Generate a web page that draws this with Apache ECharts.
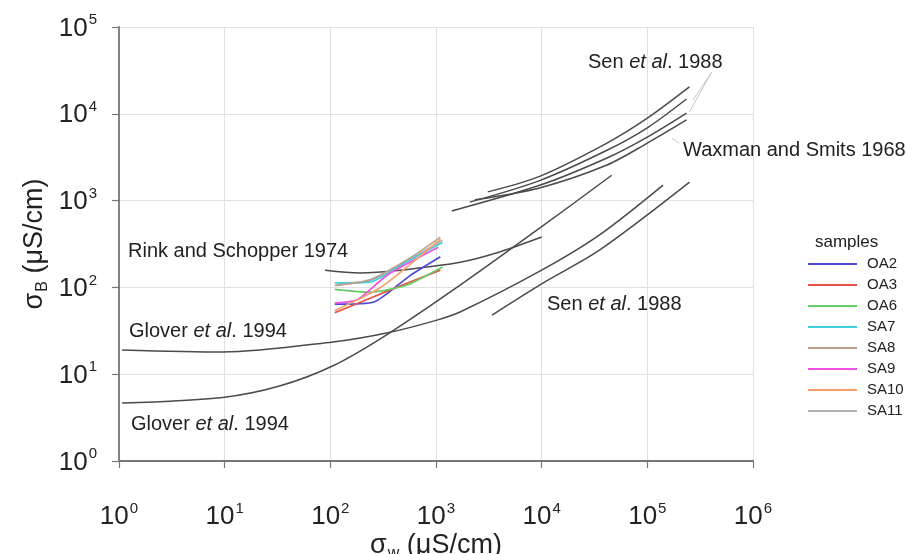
<!DOCTYPE html>
<html>
<head>
<meta charset="utf-8">
<script src="https://cdn.jsdelivr.net/npm/echarts@6/dist/echarts.min.js"></script>
<style>html,body{margin:0;padding:0;background:#fff}#c{width:907px;height:554px}</style>
</head>
<body>
<div id="c"></div>
<script>
// ---- data ----
const sampleNames = ['OA2','OA3','OA6','SA7','SA8','SA9','SA10','SA11'];
const OA2_x = [110, 260, 560, 1100];   const OA2_y = [64, 68, 135, 225];
const OA3_x = [110, 365, 1100];        const OA3_y = [51, 93, 158];
const OA6_x = [110, 236, 525, 1150];   const OA6_y = [95, 88, 106, 172];
const SA7_x = [110, 235, 520, 1150];   const SA7_y = [113, 115, 195, 330];
const SA8_x = [110, 235, 565, 1100];   const SA8_y = [105, 122, 217, 380];
const SA9_x = [110, 180, 350, 1050];   const SA9_y = [66, 72, 140, 290];
const SA10_x = [110, 300, 1100];       const SA10_y = [54, 100, 360];
const SA11_x = [115, 240, 1150];       const SA11_y = [108, 120, 350];

const senA_x = [3090, 9550, 41500, 100000, 250000]; const senA_y = [1260, 1900, 4600, 8900, 20400];
const senB_x = [2090, 9550, 41500, 100000, 235000]; const senB_y = [960, 1700, 3800, 6900, 14800];
const senC_x = [1410, 9550, 41500, 100000, 235000]; const senC_y = [760, 1500, 3100, 5400, 10200];
const wax_x  = [2330, 9550, 41500, 100000, 235000]; const wax_y  = [1020, 1400, 2570, 4600, 8500];
const rink_x = [89, 190, 457, 1690, 4000, 10000];   const rink_y = [158, 147, 158, 195, 256, 380];
const gloverU_x = [1.07, 9.6, 106, 350, 1020, 1690, 10000, 35000, 141000];
const gloverU_y = [19, 18, 23.5, 30, 42, 52, 158, 400, 1510];
const gloverL_x = [1.07, 9.6, 33, 106, 350, 1690, 10000, 46000];
const gloverL_y = [4.65, 5.4, 7.3, 12.5, 29, 106, 500, 1960];
const senLow_x = [3390, 10000, 35500, 251000];       const senLow_y = [48, 110, 270, 1630];
const ptrSen1_x = [407000, 270000]; const ptrSen1_y = [30300, 14400];
const ptrSen2_x = [407000, 250000]; const ptrSen2_y = [30300, 10500];
const ptrWax_x = [200000, 170000];  const ptrWax_y = [4600, 5250];

const xTicks = [1, 10, 100, 1000, 10000, 100000, 1000000];
const yTicks = [1, 10, 100, 1000, 10000, 100000];

// ---- styles ----
const sampleColors = ['#4a4ad8','#e8504a','#66cc66','#40d0e0','#b8a08c','#f050e0','#f5a06a','#b0b0b0'];
const FONT = '"Liberation Sans", Arial, sans-serif';
const LBL = 20;

const zip = (xs, ys) => xs.map((x, i) => [x, ys[i]]);
const sampleData = {
  OA2: zip(OA2_x, OA2_y), OA3: zip(OA3_x, OA3_y), OA6: zip(OA6_x, OA6_y), SA7: zip(SA7_x, SA7_y),
  SA8: zip(SA8_x, SA8_y), SA9: zip(SA9_x, SA9_y), SA10: zip(SA10_x, SA10_y), SA11: zip(SA11_x, SA11_y)
};

const series = [];
const modelCurves = [
  zip(senA_x, senA_y), zip(senB_x, senB_y), zip(senC_x, senC_y), zip(wax_x, wax_y),
  zip(rink_x, rink_y), zip(gloverU_x, gloverU_y), zip(gloverL_x, gloverL_y), zip(senLow_x, senLow_y)
];
modelCurves.forEach(d => series.push({
  type: 'line', data: d, smooth: 0.3, showSymbol: false, silent: true,
  lineStyle: { color: '#4a4a4a', width: 1.5 }, z: 2
}));
[zip(ptrSen1_x, ptrSen1_y), zip(ptrSen2_x, ptrSen2_y), zip(ptrWax_x, ptrWax_y)].forEach(d => series.push({
  type: 'line', data: d, showSymbol: false, silent: true,
  lineStyle: { color: '#c8c8c8', width: 1 }, z: 1
}));
const order = ['SA11','OA2','OA3','OA6','SA7','SA8','SA9','SA10'];
order.forEach(n => {
  const i = sampleNames.indexOf(n);
  series.push({
    name: n, type: 'line', data: sampleData[n], smooth: 0.2, showSymbol: false,
    lineStyle: { color: sampleColors[i], width: 1.7 }, itemStyle: { color: sampleColors[i] }, z: 3
  });
});

const supFmt = v => '{b|10}{s|' + Math.round(Math.log10(v)) + '}';
const supRich = {
  b: { fontSize: 26, fontFamily: FONT, color: '#222', verticalAlign: 'bottom' },
  s: { fontSize: 15, fontFamily: FONT, color: '#222', verticalAlign: 'bottom', padding: [0, 0, 14, 1] }
};
const nameRich = {
  a: { fontSize: 27, fontFamily: FONT, color: '#222' },
  sub: { fontSize: 16, fontFamily: FONT, color: '#222', verticalAlign: 'top', padding: [16, 0, 0, 1] }
};
const plotText = (left, top, txt) => ({
  type: 'text', left: left, top: top, z: 100,
  style: {
    text: txt,
    rich: {
      n: { fontSize: LBL, fontFamily: FONT, fill: '#222' },
      i: { fontSize: LBL, fontFamily: FONT, fontStyle: 'italic', fill: '#222' }
    }
  }
});

const chart = echarts.init(document.getElementById('c'), null, { renderer: 'canvas' });
chart.setOption({
  animation: false,
  backgroundColor: '#fff',
  grid: { left: 119, right: 154, top: 27, bottom: 93, containLabel: false, outerBoundsMode: 'none' },
  xAxis: {
    type: 'log', logBase: 10, min: xTicks[0], max: xTicks[xTicks.length - 1], interval: 1,
    name: '{a|σ}{sub|w}{a| (μS/cm)}', nameLocation: 'middle', nameGap: 69, nameMoveOverlap: false,
    nameTextStyle: { rich: nameRich },
    axisLine: { lineStyle: { color: '#777', width: 1.8 } },
    axisTick: { show: true, length: 7, lineStyle: { color: '#777', width: 1.2 } },
    axisLabel: { formatter: supFmt, rich: supRich, margin: 40 },
    splitLine: { show: true, lineStyle: { color: '#e0e0e0', width: 1 } }
  },
  yAxis: {
    type: 'log', logBase: 10, min: yTicks[0], max: yTicks[yTicks.length - 1], interval: 1,
    name: '{a|σ}{sub|B}{a| (μS/cm)}', nameLocation: 'middle', nameGap: 68, nameRotate: 90, nameMoveOverlap: false,
    nameTextStyle: { rich: nameRich },
    axisLine: { show: true, lineStyle: { color: '#777', width: 1.8 } },
    axisTick: { show: true, length: 7, lineStyle: { color: '#777', width: 1.2 } },
    axisLabel: { formatter: supFmt, rich: supRich, margin: 22 },
    splitLine: { show: true, lineStyle: { color: '#e0e0e0', width: 1 } }
  },
  legend: {
    data: sampleNames, orient: 'vertical', left: 803, top: 251,
    icon: 'rect', itemWidth: 49, itemHeight: 2, itemGap: 5,
    textStyle: { fontSize: 15, fontFamily: FONT, color: '#222', lineHeight: 16, padding: [0, 0, 0, 5] },
    selectedMode: false
  },
  graphic: [
    { type: 'text', left: 815, top: 234, z: 100, style: { text: 'samples', fontSize: 17, fontFamily: FONT, fill: '#222' } },
    plotText(588, 52, '{n|Sen }{i|et al}{n|. 1988}'),
    plotText(683, 140, '{n|Waxman and Smits 1968}'),
    plotText(128, 241, '{n|Rink and Schopper 1974}'),
    plotText(547, 294, '{n|Sen }{i|et al}{n|. 1988}'),
    plotText(129, 321, '{n|Glover }{i|et al}{n|. 1994}'),
    plotText(131, 414, '{n|Glover }{i|et al}{n|. 1994}')
  ],
  series: series
});
</script>
</body>
</html>
